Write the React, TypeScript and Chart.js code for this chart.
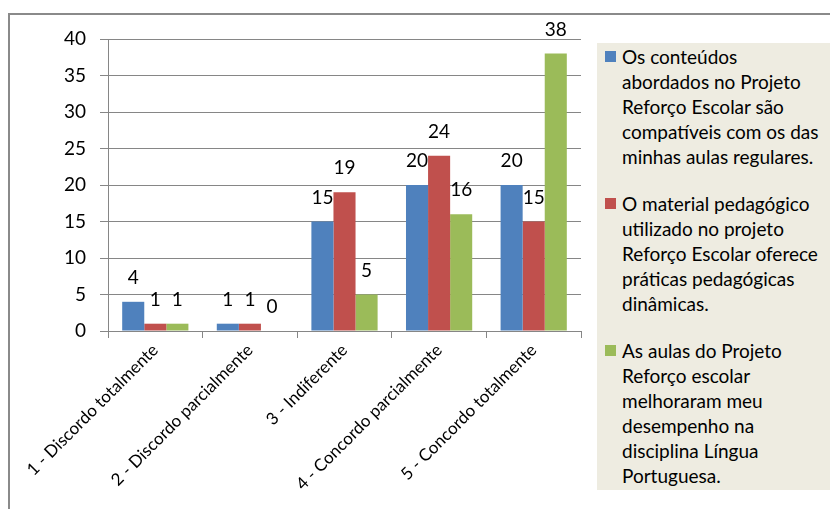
import React, { useEffect, useRef } from "react";
import { Chart, registerables } from "chart.js";

Chart.register(...registerables);

const categories = [
  "1 - Discordo totalmente",
  "2 - Discordo parcialmente",
  "3 - Indiferente",
  "4 - Concordo parcialmente",
  "5 - Concordo totalmente",
];
const seriesA = [4, 1, 15, 20, 20];
const seriesB = [1, 1, 19, 24, 15];
const seriesC = [1, 0, 5, 16, 38];
const legendA = ["Os conteúdos", "abordados no Projeto", "Reforço Escolar são", "compatíveis com os das", "minhas aulas regulares."];
const legendB = ["O material pedagógico", "utilizado no projeto", "Reforço Escolar oferece", "práticas pedagógicas", "dinâmicas."];
const legendC = ["As aulas do Projeto", "Reforço escolar", "melhoraram meu", "desempenho na", "disciplina Língua", "Portuguesa."];
const yTicks = [0, 5, 10, 15, 20, 25, 30, 35, 40];

const colors = ["#4F81BD", "#C0504D", "#9BBB59"];
const FONT = "Lato, 'Liberation Sans', sans-serif";

const valueLabels = {
  id: "valueLabels",
  afterDatasetsDraw(chart: any) {
    const ctx = chart.ctx;
    ctx.save();
    ctx.font = `19px ${FONT}`;
    ctx.fillStyle = "#000";
    ctx.textAlign = "center";
    ctx.textBaseline = "middle";
    chart.data.datasets.forEach((ds: any, i: number) => {
      const meta = chart.getDatasetMeta(i);
      meta.data.forEach((el: any, j: number) => {
        ctx.fillText(String(ds.data[j]), el.x, el.y - 24);
      });
    });
    ctx.restore();
  },
};

export default function App() {
  const ref = useRef<HTMLCanvasElement | null>(null);

  useEffect(() => {
    document.body.style.margin = "0";
    if (!ref.current) return;
    const chart = new Chart(ref.current, {
      type: "bar",
      data: {
        labels: categories,
        datasets: [
          { label: legendA.join(" "), data: seriesA, backgroundColor: colors[0] },
          { label: legendB.join(" "), data: seriesB, backgroundColor: colors[1] },
          { label: legendC.join(" "), data: seriesC, backgroundColor: colors[2] },
        ],
      },
      options: {
        animation: false,
        responsive: false,
        devicePixelRatio: 1,
        layout: { padding: { left: 0, top: 39, right: 19, bottom: 0 } },
        plugins: { legend: { display: false }, tooltip: { enabled: false } },
        datasets: { bar: { categoryPercentage: 0.7, barPercentage: 1 } },
        scales: {
          x: {
            grid: { offset: true, drawOnChartArea: false, drawTicks: true, tickLength: 7, color: "#868686" },
            border: { color: "#868686" },
            ticks: {
              color: "#000",
              font: { family: FONT, size: 17 },
              maxRotation: 45,
              minRotation: 45,
              autoSkip: false,
              padding: 2,
            },
            afterFit(scale: any) {
              scale.height = 178;
            },
          },
          y: {
            min: 0,
            max: 40,
            afterBuildTicks(scale: any) {
              scale.ticks = yTicks.map((v) => ({ value: v }));
            },
            grid: { color: "#868686", tickLength: 8 },
            border: { color: "#868686" },
            ticks: { color: "#000", font: { family: FONT, size: 19 }, padding: 14 },
            afterFit(scale: any) {
              scale.width = 108;
            },
          },
        },
      },
      plugins: [valueLabels],
    });
    return () => chart.destroy();
  }, []);

  const legends = [legendA, legendB, legendC];

  return (
    <div style={{ position: "relative", width: 830, height: 509, overflow: "hidden", background: "#fff" }}>
      <div
        style={{
          position: "absolute",
          left: 8,
          top: 13,
          width: 840,
          height: 520,
          borderTop: "2px solid #8a8a8a",
          borderLeft: "2px solid #8a8a8a",
          boxSizing: "border-box",
        }}
      />
      <canvas ref={ref} width={600} height={509} style={{ position: "absolute", left: 0, top: 0, width: 600, height: 509 }} />
      <div
        style={{
          position: "absolute",
          left: 597,
          top: 43,
          width: 240,
          height: 447,
          background: "#EEECE1",
          fontFamily: FONT,
          fontSize: 19,
          lineHeight: "25px",
          color: "#000",
          boxSizing: "border-box",
        }}
      >
        {legends.map((lines, i) => (
          <div key={i} style={{ position: "relative", paddingLeft: 25, marginTop: i === 0 ? 1 : 22, whiteSpace: "nowrap" }}>
            <span
              style={{
                position: "absolute",
                left: 8,
                top: 7,
                width: 11,
                height: 11,
                background: colors[i],
              }}
            />
            {lines.map((t, k) => (
              <div key={k}>{t}</div>
            ))}
          </div>
        ))}
      </div>
    </div>
  );
}
